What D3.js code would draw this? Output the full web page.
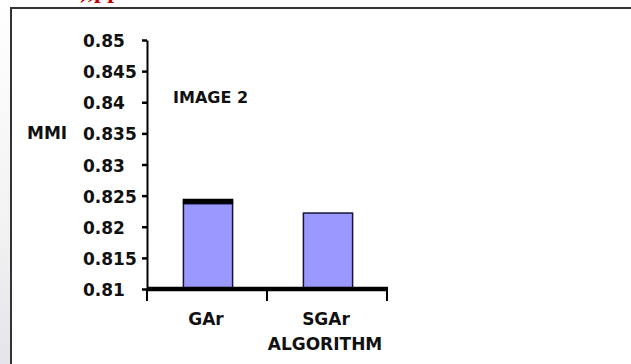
<!DOCTYPE html>
<html><head><meta charset="utf-8">
<script src="https://cdn.jsdelivr.net/npm/d3@7"></script>
<style>html,body{margin:0;padding:0;background:#fff;overflow:hidden}svg{display:block}</style>
</head><body>
<script>
const categories = ["GAr", "SGAr"];
const barValues = [0.8237, 0.8222];
const capValues = [0.8245, null];
const yTicks = [0.81, 0.815, 0.82, 0.825, 0.83, 0.835, 0.84, 0.845, 0.85];
const yTickLabels = ["0.81", "0.815", "0.82", "0.825", "0.83", "0.835", "0.84", "0.845", "0.85"];
const yTitle = "MMI";
const xTitle = "ALGORITHM";
const chartNote = "IMAGE 2";

const W = 631, H = 364;
const font = "'DejaVu Sans', sans-serif";
const svg = d3.select("body").append("svg").attr("width", W).attr("height", H);

// faint page background at left edge
const grad = svg.append("defs").append("linearGradient").attr("id","lg").attr("x1",0).attr("y1",0).attr("x2",0).attr("y2",1);
grad.append("stop").attr("offset","0").attr("stop-color","#ffffff");
grad.append("stop").attr("offset","0.6").attr("stop-color","#f3f3f3");
grad.append("stop").attr("offset","1").attr("stop-color","#e4e4ea");
svg.append("rect").attr("x",0).attr("y",0).attr("width",10).attr("height",H).attr("fill","url(#lg)");

// red cut-off text at very top
svg.append("text").attr("x", 80).attr("y", -2).attr("font-family","'Liberation Serif', serif")
  .attr("font-weight","bold").attr("font-size",24).attr("fill","#c00000").text("),pp");

// frame
svg.append("line").attr("x1",10).attr("x2",W).attr("y1",8).attr("y2",8).attr("stroke","#333").attr("stroke-width",2);
svg.append("line").attr("x1",11).attr("x2",11).attr("y1",7).attr("y2",H).attr("stroke","#333").attr("stroke-width",2);

const y = d3.scaleLinear().domain([0.81, 0.85]).range([289, 40]);
const x = d3.scaleBand().domain(categories).range([147, 387]).padding(0);

// y axis
const yAxis = svg.append("g").attr("transform","translate(147,0)")
  .call(d3.axisLeft(y).tickValues(yTicks).tickSize(5).tickSizeOuter(0).tickFormat(""));
yAxis.select(".domain").attr("stroke","#000").attr("stroke-width",2);
yAxis.selectAll(".tick line").attr("stroke","#000").attr("stroke-width",2.5);

// y labels
svg.append("g").selectAll("text").data(yTicks).join("text")
  .attr("x", 83).attr("y", d => y(d) + 1)
  .attr("dominant-baseline","central")
  .attr("font-family", font).attr("font-weight","bold").attr("font-size",17).attr("fill","#111")
  .text((d,i) => yTickLabels[i]);

// bars
const bw = x.bandwidth() * 0.41;
svg.append("g").selectAll("rect").data(categories).join("rect")
  .attr("x", d => x(d) + x.bandwidth()/2 - bw/2 + 1)
  .attr("y", (d,i) => y(barValues[i]))
  .attr("width", bw)
  .attr("height", (d,i) => y(0.81) - y(barValues[i]))
  .attr("fill","#9999ff").attr("stroke","#141438").attr("stroke-width",1.5);

// black cap
svg.append("g").selectAll("rect").data(categories.filter((d,i)=>capValues[i]!=null)).join("rect")
  .attr("x", d => x(d) + x.bandwidth()/2 - bw/2 + 0.25)
  .attr("y", d => y(capValues[categories.indexOf(d)]))
  .attr("width", bw + 1.5)
  .attr("height", d => y(barValues[categories.indexOf(d)]) - y(capValues[categories.indexOf(d)]))
  .attr("fill","#000");

// x axis
const xAxis = svg.append("g").attr("transform","translate(0,289)")
  .call(d3.axisBottom(x).tickSize(0).tickFormat(""));
xAxis.select(".domain").remove();
svg.append("line").attr("x1", x.range()[0]).attr("x2", x.range()[1]+1).attr("y1",289).attr("y2",289)
  .attr("stroke","#000").attr("stroke-width",4.5);
const xBounds = [x.range()[0], x(categories[1]), x.range()[1]];
svg.append("g").selectAll("line").data(xBounds).join("line")
  .attr("x1", d => d).attr("x2", d => d).attr("y1", 289).attr("y2", 301)
  .attr("stroke","#000").attr("stroke-width",2);

// x labels
svg.append("g").selectAll("text").data(categories).join("text")
  .attr("x", d => x(d) + x.bandwidth()/2 - 1).attr("y", 319)
  .attr("dominant-baseline","central").attr("text-anchor","middle")
  .attr("font-family", font).attr("font-weight","bold").attr("font-size",17).attr("fill","#111")
  .text(d => d);

svg.append("text").attr("x", x(categories[1]) + x.bandwidth()/2 - 2).attr("y", 344)
  .attr("dominant-baseline","central").attr("text-anchor","middle")
  .attr("font-family", font).attr("font-weight","bold").attr("font-size",17).attr("fill","#111")
  .text(xTitle);

svg.append("text").attr("x", 27).attr("y", 133).attr("dominant-baseline","central")
  .attr("font-family", font).attr("font-weight","bold").attr("font-size",17).attr("fill","#111")
  .text(yTitle);

svg.append("text").attr("x", 173).attr("y", 97).attr("dominant-baseline","central")
  .attr("font-family", font).attr("font-weight","bold").attr("font-size",16).attr("fill","#111")
  .text(chartNote);
</script>
</body></html>
